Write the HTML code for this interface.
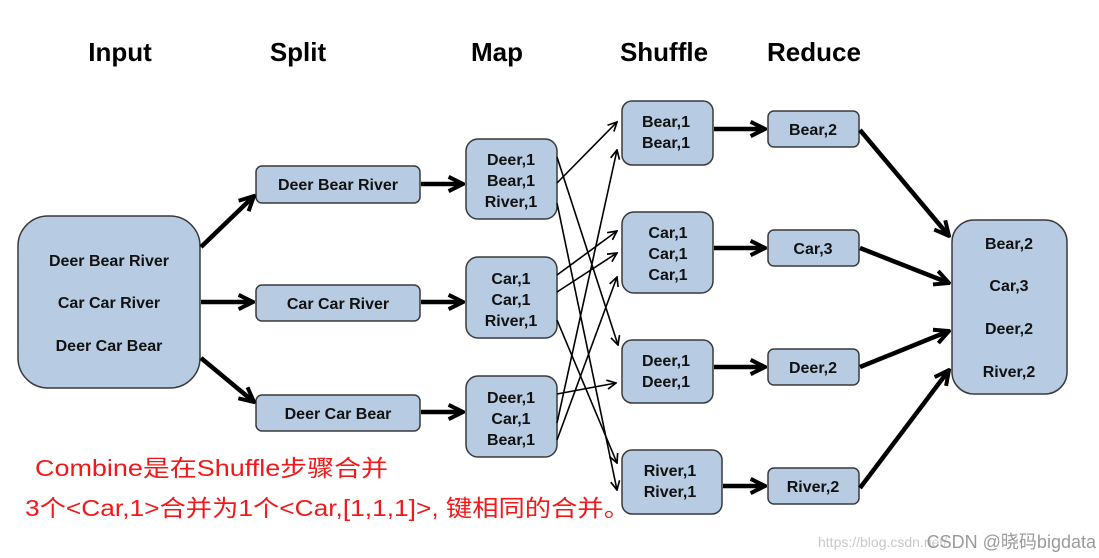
<!DOCTYPE html>
<html><head><meta charset="utf-8"><style>
html,body{margin:0;padding:0;background:#fff;}
svg{display:block;}
text{font-family:"Liberation Sans",sans-serif;}
.b{fill:#b7cce2;stroke:#3a3a3a;stroke-width:1.5;}
.t{font-weight:bold;font-size:16px;fill:#111;text-anchor:middle;}
.h{font-weight:bold;font-size:26px;fill:#000;text-anchor:middle;}
.k{stroke:#000;stroke-width:4.5;fill:none;}
.n{stroke:#000;stroke-width:1.6;fill:none;}
</style></head><body>
<svg width="1099" height="558" viewBox="0 0 1099 558" xmlns="http://www.w3.org/2000/svg">
<defs>
<marker id="A" viewBox="0 0 10 10" refX="9" refY="5" markerWidth="4" markerHeight="4" orient="auto" markerUnits="strokeWidth"><path d="M1,1 L9,5 L1,9" fill="none" stroke="#000" stroke-width="2.2"/></marker>
<marker id="a" viewBox="0 0 10 10" refX="9" refY="5" markerWidth="7" markerHeight="7" orient="auto" markerUnits="strokeWidth"><path d="M1,1 L9,5 L1,9" fill="none" stroke="#000" stroke-width="1.5"/></marker>
</defs>
<text class="h" x="120" y="61">Input</text>
<text class="h" x="298" y="61">Split</text>
<text class="h" x="497" y="61">Map</text>
<text class="h" x="664" y="61">Shuffle</text>
<text class="h" x="814" y="61">Reduce</text>

<rect class="b" x="18" y="216" width="182" height="172" rx="30"/>
<text class="t" x="109" y="266">Deer Bear River</text>
<text class="t" x="109" y="308">Car Car River</text>
<text class="t" x="109" y="351">Deer Car Bear</text>

<rect class="b" x="256" y="166" width="164" height="37" rx="6"/>
<text class="t" x="338" y="190">Deer Bear River</text>
<rect class="b" x="256" y="285" width="164" height="36" rx="6"/>
<text class="t" x="338" y="309">Car Car River</text>
<rect class="b" x="256" y="395" width="164" height="36" rx="6"/>
<text class="t" x="338" y="419">Deer Car Bear</text>

<rect class="b" x="466" y="139" width="91" height="80" rx="12"/>
<text class="t" x="511" y="165">Deer,1</text><text class="t" x="511" y="186">Bear,1</text><text class="t" x="511" y="207">River,1</text>
<rect class="b" x="466" y="257" width="91" height="81" rx="12"/>
<text class="t" x="511" y="284">Car,1</text><text class="t" x="511" y="305">Car,1</text><text class="t" x="511" y="326">River,1</text>
<rect class="b" x="466" y="376" width="91" height="81" rx="12"/>
<text class="t" x="511" y="403">Deer,1</text><text class="t" x="511" y="424">Car,1</text><text class="t" x="511" y="445">Bear,1</text>

<rect class="b" x="622" y="101" width="91" height="64" rx="10"/>
<text class="t" x="666" y="127">Bear,1</text><text class="t" x="666" y="148">Bear,1</text>
<rect class="b" x="622" y="212" width="91" height="81" rx="12"/>
<text class="t" x="668" y="238">Car,1</text><text class="t" x="668" y="259">Car,1</text><text class="t" x="668" y="280">Car,1</text>
<rect class="b" x="622" y="340" width="91" height="63" rx="10"/>
<text class="t" x="666" y="366">Deer,1</text><text class="t" x="666" y="387">Deer,1</text>
<rect class="b" x="622" y="450" width="100" height="64" rx="10"/>
<text class="t" x="670" y="476">River,1</text><text class="t" x="670" y="497">River,1</text>

<rect class="b" x="768" y="111" width="91" height="36" rx="6"/><text class="t" x="813" y="135">Bear,2</text>
<rect class="b" x="768" y="230" width="91" height="36" rx="6"/><text class="t" x="813" y="254">Car,3</text>
<rect class="b" x="768" y="349" width="91" height="36" rx="6"/><text class="t" x="813" y="373">Deer,2</text>
<rect class="b" x="768" y="468" width="91" height="36" rx="6"/><text class="t" x="813" y="492">River,2</text>

<rect class="b" x="952" y="220" width="115" height="174" rx="22"/>
<text class="t" x="1009" y="249">Bear,2</text>
<text class="t" x="1009" y="291">Car,3</text>
<text class="t" x="1009" y="334">Deer,2</text>
<text class="t" x="1009" y="377">River,2</text>

<!-- thick arrows -->
<g class="k" marker-end="url(#A)">
<line x1="201" y1="247" x2="254" y2="196"/>
<line x1="201" y1="302" x2="253" y2="302"/>
<line x1="201" y1="358" x2="254" y2="402"/>
<line x1="421" y1="184" x2="463" y2="184"/>
<line x1="421" y1="302" x2="463" y2="302"/>
<line x1="421" y1="412" x2="463" y2="412"/>
<line x1="714" y1="129" x2="765" y2="129"/>
<line x1="714" y1="248" x2="765" y2="248"/>
<line x1="714" y1="367" x2="765" y2="367"/>
<line x1="723" y1="486" x2="765" y2="486"/>
<line x1="860" y1="130" x2="949" y2="236"/>
<line x1="860" y1="248" x2="949" y2="283"/>
<line x1="860" y1="367" x2="949" y2="331"/>
<line x1="860" y1="488" x2="949" y2="370"/>
</g>
<!-- thin arrows -->
<g class="n" marker-end="url(#a)">
<line x1="557" y1="183" x2="617" y2="122"/>
<line x1="557" y1="157" x2="618" y2="345"/>
<line x1="557" y1="203" x2="617" y2="490"/>
<line x1="557" y1="275" x2="617" y2="231"/>
<line x1="557" y1="292" x2="617" y2="253"/>
<line x1="557" y1="320" x2="617" y2="463"/>
<line x1="557" y1="394" x2="616" y2="383"/>
<line x1="557" y1="423" x2="617" y2="150"/>
<line x1="557" y1="440" x2="617" y2="277"/>
</g>

<text x="35" y="476" font-size="23" fill="#f01818" textLength="353" lengthAdjust="spacingAndGlyphs" style='font-family:"Liberation Sans","Noto Sans CJK SC",sans-serif'>Combine是在Shuffle步骤合并</text>
<text x="25" y="516" font-size="23" fill="#f01818" textLength="605" lengthAdjust="spacingAndGlyphs" style='font-family:"Liberation Sans","Noto Sans CJK SC",sans-serif'>3个&lt;Car,1&gt;合并为1个&lt;Car,[1,1,1]&gt;, 键相同的合并。</text>
<text x="818" y="547" font-size="14" fill="#c8c8c8" style='font-family:"Liberation Sans",sans-serif'>https://blog.csdn.net/</text>
<text x="1096" y="548" font-size="18" fill="#9a9a9a" text-anchor="end" style='font-family:"Liberation Sans","Noto Sans CJK SC",sans-serif'>CSDN @晓码bigdata</text>
</svg>
</body></html>
